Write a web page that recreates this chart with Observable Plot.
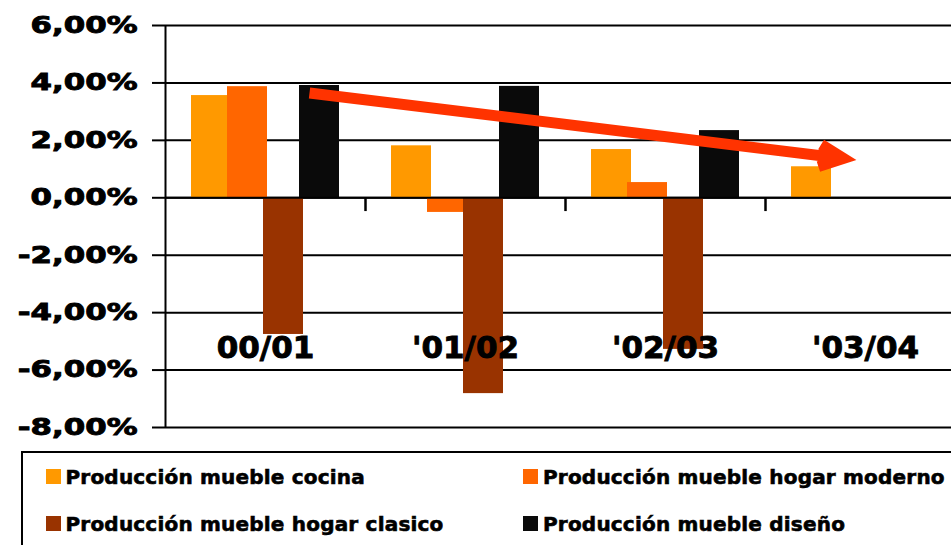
<!DOCTYPE html>
<html>
<head>
<meta charset="utf-8">
<script src="https://cdn.jsdelivr.net/npm/d3@7"></script>
<script src="https://cdn.jsdelivr.net/npm/@observablehq/plot@0.6"></script>
<style>
  html, body { margin: 0; padding: 0; background: #fff; overflow: hidden; width: 951px; height: 545px; }
  #chart svg { display: block; }
  #chart svg text { stroke: #000; stroke-width: 0.9px; }
  #legend { position: absolute; left: 21px; top: 451px; width: 1000px; height: 200px;
            border-top: 2px solid #000; border-left: 2px solid #000; box-sizing: border-box; }
  .item { position: absolute; font-family: "DejaVu Sans", sans-serif; font-weight: bold;
          font-size: 20px; line-height: 20px; letter-spacing: 0.2px; white-space: nowrap; color: #000;
          -webkit-text-stroke: 0.6px #000; }
  .sw { position: absolute; width: 15px; height: 15px; }
</style>
</head>
<body>
<div id="chart"></div>
<div id="legend"></div>
<script>
// ---- data ----
const categories = ["00/01", "'01/02", "'02/03", "'03/04"];
const series = [
  "Producción mueble cocina",
  "Producción mueble hogar moderno",
  "Producción mueble hogar clasico",
  "Producción mueble diseño"
];
const cocina  = [3.56, 1.81, 1.68, 1.08];
const moderno = [3.87, -0.51, 0.53, null];
const clasico = [-4.76, -6.82, -5.28, null];
const diseno  = [3.91, 3.88, 2.34, null];
const colors = ["#FF9900", "#FF6600", "#993300", "#0A0A0A"];
const yTicks = [-8, -6, -4, -2, 0, 2, 4, 6];
const boundaries = [0.5, 1.5, 2.5];
// trend arrow, in data units (category index, %)
const trend = [{x1: 0.22, y1: 3.65, x2: 2.89, y2: 1.37}];

const seriesValues = [cocina, moderno, clasico, diseno];
const table = categories.flatMap((c, i) =>
  seriesValues.map((vals, j) => ({cat: c, i, j, series: series[j], value: vals[i]}))
).filter(d => d.value != null);

const fmt = d => d.toFixed(2).replace(".", ",") + "%";

const chart = Plot.plot({
  width: 951,
  height: 445,
  marginLeft: 165,
  marginRight: 0,
  marginTop: 25,
  marginBottom: 18,
  style: {fontFamily: "DejaVu Sans", fontWeight: "bold", color: "#000", background: "#fff"},
  x: {domain: [-0.5, 3.5], range: [165, 965], axis: null},
  y: {domain: [-8, 6], axis: null},
  color: {domain: series, range: colors},
  marks: [
    Plot.ruleY(yTicks, {stroke: "#000", strokeWidth: 2}),
    Plot.axisY(yTicks, {tickSize: 13, tickPadding: 15, strokeWidth: 2, fontSize: 23, tickFormat: fmt}),
    Plot.ruleX([-0.5], {y1: -8, y2: 6, stroke: "#000", strokeWidth: 2}),
    Plot.rectY(table, {
      x1: d => d.i - 0.5 + 0.13 + d.j * 0.18,
      x2: d => d.i - 0.5 + 0.13 + d.j * 0.18 + 0.2,
      y1: () => 0,
      y2: "value",
      fill: "series"
    }),
    Plot.ruleY([0], {stroke: "#000", strokeWidth: 2}),
    Plot.ruleX(boundaries, {y1: 0, y2: -0.48, stroke: "#000", strokeWidth: 2.5}),
    Plot.text(categories, {
      x: (d, i) => i, text: d => d, frameAnchor: "bottom", dy: -70,
      fontSize: 31, fontWeight: "bold", fill: "#000"
    }),
    Plot.arrow(trend, {
      x1: "x1", y1: "y1", x2: "x2", y2: "y2",
      stroke: "#FF3300", fill: "#FF3300", strokeWidth: 11,
      headLength: 3.6, headAngle: 50,
      strokeLinecap: "butt", strokeLinejoin: "miter", strokeMiterlimit: 10
    })
  ]
});
document.getElementById("chart").appendChild(chart);

// stretch y tick labels horizontally like the reference
chart.querySelectorAll('g[aria-label="y-axis tick label"] text').forEach(t => {
  const len = t.getComputedTextLength();
  t.setAttribute("textLength", (len * 1.34).toFixed(1));
  t.setAttribute("lengthAdjust", "spacingAndGlyphs");
});

// legend
const legend = document.getElementById("legend");
const pos = [
  {sx: 45.5, tx: 65.5, row: 0}, {sx: 523, tx: 543, row: 0},
  {sx: 45.5, tx: 65.5, row: 1}, {sx: 523, tx: 543, row: 1}
];
series.forEach((s, j) => {
  const p = pos[j];
  const top = 469 + p.row * 47;
  const sw = document.createElement("div");
  sw.className = "sw";
  sw.style.left = (p.sx - 23) + "px";
  sw.style.top = (top - 453) + "px";
  sw.style.background = colors[j];
  legend.appendChild(sw);
  const tx = document.createElement("div");
  tx.className = "item";
  tx.style.left = (p.tx - 23) + "px";
  tx.style.top = (top - 2 - 453) + "px";
  tx.textContent = s;
  legend.appendChild(tx);
});
</script>
</body>
</html>
